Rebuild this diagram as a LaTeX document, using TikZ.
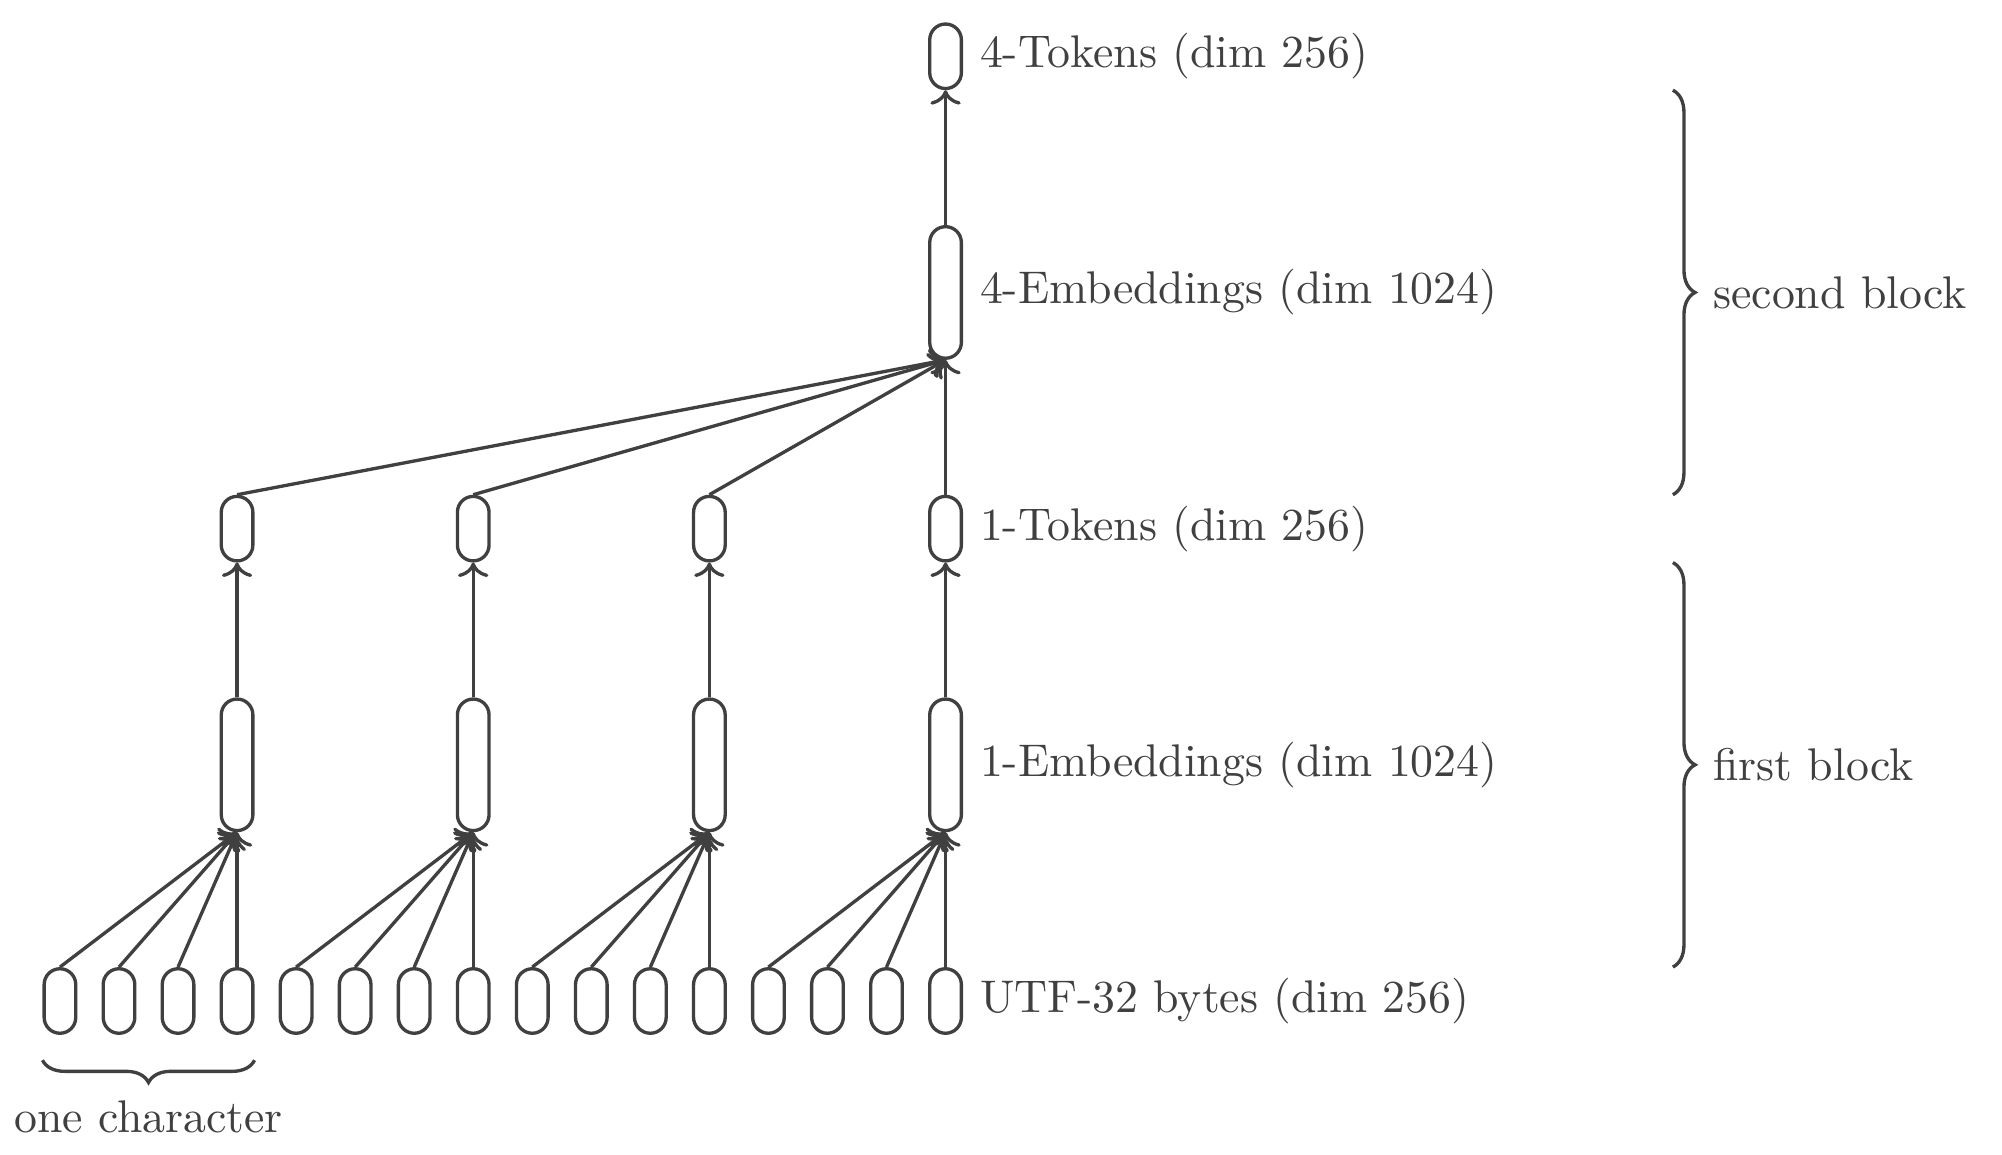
\documentclass[tikz,border=0pt]{standalone}
\usepackage{amsmath,amssymb}
\usetikzlibrary{arrows.meta, positioning, decorations.pathreplacing}

\begin{document}
\begin{tikzpicture}[
  every node/.style={text=black!75, font=\fontsize{10.3}{12.4}\selectfont},
  cell/.style={draw=black!75, line width=0.75pt, rounded corners=0.125cm,
               minimum width=0.25cm, minimum height=0.51cm, inner sep=0pt},
  tall/.style={cell, minimum height=1.04cm},
  link/.style={draw=black!75, line width=0.75pt, ->},
  brc/.style={draw=black!75, line width=0.75pt, decorate,
              decoration={brace, amplitude=5pt}}]

  \def\gap{0.4667}
  \def\row{1.867}

  \useasboundingbox (-0.474, -1.2095) rectangle (15.352, 7.913);

  % UTF-32 bytes, four per character
  \foreach \i in {0,...,15}
    \node[cell] (b\i) at (\i*\gap, 0) {};

  % first block: 1-Embeddings and 1-Tokens
  \foreach \k in {0,...,3} {
    \node[tall] (e\k) at (4*\k*\gap+3*\gap, \row) {};
    \node[cell] (t\k) at (4*\k*\gap+3*\gap, 2*\row) {};
    \draw[link] (e\k.north) -- (t\k.south);
    \foreach \j in {0,...,3} {
      \pgfmathtruncatemacro{\n}{4*\k+\j}
      \draw[link] (b\n.north) -- (e\k.south);
    }
  }

  % second block: 4-Embeddings and 4-Tokens
  \node[tall] (E) at (15*\gap, 3*\row) {};
  \node[cell] (T) at (15*\gap, 4*\row) {};
  \foreach \k in {0,...,3}
    \draw[link] (t\k.north) -- (E.south);
  \draw[link] (E.north) -- (T.south);

  % Labels right of the last column
  \node[right=0.3pt of T] (lT) {4-Tokens (dim 256)};
  \node[right=0.3pt of E] (lE) {4-Embeddings (dim 1024)};
  \node[right=0.3pt of t3] (lt) {1-Tokens (dim 256)};
  \node[right=0.3pt of e3] (le) {1-Embeddings (dim 1024)};
  \node[right=0.3pt of b15] (lb) {UTF-32 bytes (dim 256)};

  % Braces
  \coordinate (bx) at (12.75, 0);
  \draw[brc] (T.south -| bx) -- (t3.north -| bx)
    node[midway, right=0.19cm] (l2) {second block};
  \draw[brc] (t3.south -| bx) -- (b15.north -| bx)
    node[midway, right=0.19cm] (l1) {first block};
  \draw[brc] ([yshift=-0.2cm]b3.south east) -- ([yshift=-0.2cm]b0.south west)
    node[midway, below=0.19cm] (lc) {one character};

\end{tikzpicture}
\end{document}
